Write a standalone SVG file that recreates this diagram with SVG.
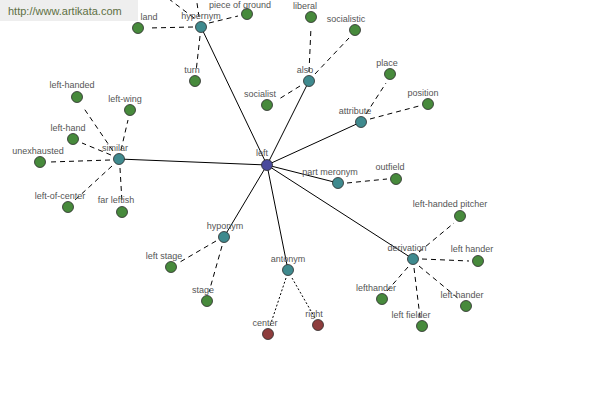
<svg xmlns="http://www.w3.org/2000/svg" width="600" height="400" viewBox="0 0 600 400">
<style>
.bg{fill:#ffffff}
.wm{fill:#eeeeee}
.wmt{font-family:"Liberation Sans",Arial,sans-serif;font-size:11px;fill:#5e7044}
.lbl{font-family:"Liberation Sans",Arial,sans-serif;font-size:9px;fill:#555555;text-anchor:middle}
.n{stroke:#2a2a2a;stroke-width:0.8}
.root{fill:#4a4a9c}
.rel{fill:#3f8a8e}
.syn{fill:#478a3c}
.ant{fill:#8e3d3d}
.s{stroke:#000;stroke-width:1;fill:none}
.d{stroke:#000;stroke-width:1;fill:none;stroke-dasharray:5 4}
.o{stroke:#000;stroke-width:1;fill:none;stroke-dasharray:2 2}
</style>
<rect class="bg" width="600" height="400"/>
<g id="connectors">
<line class="s" x1="267" y1="165" x2="201" y2="27"/>
<line class="s" x1="267" y1="165" x2="309" y2="81"/>
<line class="s" x1="267" y1="165" x2="361" y2="122"/>
<line class="s" x1="267" y1="165" x2="119" y2="159"/>
<line class="s" x1="267" y1="165" x2="338" y2="183"/>
<line class="s" x1="267" y1="165" x2="413" y2="259"/>
<line class="s" x1="267" y1="165" x2="288" y2="270"/>
<line class="s" x1="267" y1="165" x2="224" y2="237"/>
<line class="d" x1="193" y1="27" x2="148" y2="28"/>
<line class="d" x1="209" y1="23" x2="238" y2="16"/>
<line class="d" x1="200" y1="36" x2="196" y2="72"/>
<line class="d" x1="194" y1="18" x2="165" y2="-4"/>
<line class="d" x1="199" y1="17" x2="196" y2="-4"/>
<line class="d" x1="309" y1="72" x2="311" y2="27"/>
<line class="d" x1="315" y1="74" x2="349" y2="38"/>
<line class="d" x1="300" y1="86" x2="279" y2="99"/>
<line class="d" x1="366" y1="114" x2="386" y2="83"/>
<line class="d" x1="370" y1="119" x2="419" y2="106"/>
<line class="d" x1="113" y1="151" x2="83" y2="107"/>
<line class="d" x1="121" y1="150" x2="128" y2="120"/>
<line class="d" x1="111" y1="155" x2="82" y2="143"/>
<line class="d" x1="110" y1="160" x2="50" y2="162"/>
<line class="d" x1="112" y1="166" x2="75" y2="200"/>
<line class="d" x1="120" y1="168" x2="122" y2="202"/>
<line class="d" x1="347" y1="183" x2="387" y2="179"/>
<line class="d" x1="216" y1="241" x2="180" y2="262"/>
<line class="d" x1="222" y1="246" x2="209" y2="292"/>
<line class="d" x1="419" y1="252" x2="454" y2="223"/>
<line class="d" x1="422" y1="259" x2="469" y2="261"/>
<line class="d" x1="408" y1="267" x2="387" y2="291"/>
<line class="d" x1="419" y1="266" x2="459" y2="299"/>
<line class="d" x1="414" y1="268" x2="420" y2="317"/>
<line class="o" x1="286" y1="278" x2="270" y2="326"/>
<line class="o" x1="292" y1="278" x2="315" y2="318"/>
</g>
<g id="watermark">
<rect class="wm" x="0" y="0" width="138" height="21"/>
<text class="wmt" x="8" y="15">http://www.artikata.com</text>
</g>
<g id="n-left"><circle class="n root" cx="267" cy="165" r="5.5"/><text class="lbl" x="262" y="156">left</text></g>
<g id="n-hypernym"><circle class="n rel" cx="201" cy="27" r="5.5"/><text class="lbl" x="201" y="19">hypernym</text></g>
<g id="n-land"><circle class="n syn" cx="138" cy="28" r="5.5"/><text class="lbl" x="149" y="20">land</text></g>
<g id="n-piece"><circle class="n syn" cx="247" cy="14" r="5.5"/><text class="lbl" x="240" y="8">piece of ground</text></g>
<g id="n-turn"><circle class="n syn" cx="195" cy="81" r="5.5"/><text class="lbl" x="192" y="73">turn</text></g>
<g id="n-also"><circle class="n rel" cx="309" cy="81" r="5.5"/><text class="lbl" x="305" y="73">also</text></g>
<g id="n-liberal"><circle class="n syn" cx="311" cy="17" r="5.5"/><text class="lbl" x="305" y="9">liberal</text></g>
<g id="n-socialistic"><circle class="n syn" cx="355" cy="30" r="5.5"/><text class="lbl" x="346" y="22">socialistic</text></g>
<g id="n-socialist"><circle class="n syn" cx="267" cy="105" r="5.5"/><text class="lbl" x="260" y="97">socialist</text></g>
<g id="n-attribute"><circle class="n rel" cx="361" cy="122" r="5.5"/><text class="lbl" x="355" y="114">attribute</text></g>
<g id="n-place"><circle class="n syn" cx="390" cy="74" r="5.5"/><text class="lbl" x="387" y="66">place</text></g>
<g id="n-position"><circle class="n syn" cx="428" cy="104" r="5.5"/><text class="lbl" x="423" y="96">position</text></g>
<g id="n-similar"><circle class="n rel" cx="119" cy="159" r="5.5"/><text class="lbl" x="115" y="151">similar</text></g>
<g id="n-left-handed"><circle class="n syn" cx="77" cy="97" r="5.5"/><text class="lbl" x="72" y="88">left-handed</text></g>
<g id="n-left-wing"><circle class="n syn" cx="130" cy="110" r="5.5"/><text class="lbl" x="125" y="102">left-wing</text></g>
<g id="n-left-hand"><circle class="n syn" cx="73" cy="139" r="5.5"/><text class="lbl" x="68" y="131">left-hand</text></g>
<g id="n-unexhausted"><circle class="n syn" cx="40" cy="162" r="5.5"/><text class="lbl" x="38" y="154">unexhausted</text></g>
<g id="n-left-of-center"><circle class="n syn" cx="68" cy="207" r="5.5"/><text class="lbl" x="60" y="199">left-of-center</text></g>
<g id="n-far-leftish"><circle class="n syn" cx="122" cy="212" r="5.5"/><text class="lbl" x="116" y="203">far leftish</text></g>
<g id="n-part-meronym"><circle class="n rel" cx="338" cy="183" r="5.5"/><text class="lbl" x="330" y="175">part meronym</text></g>
<g id="n-outfield"><circle class="n syn" cx="396" cy="179" r="5.5"/><text class="lbl" x="390" y="170">outfield</text></g>
<g id="n-hyponym"><circle class="n rel" cx="224" cy="237" r="5.5"/><text class="lbl" x="225" y="229">hyponym</text></g>
<g id="n-left-stage"><circle class="n syn" cx="171" cy="267" r="5.5"/><text class="lbl" x="164" y="259">left stage</text></g>
<g id="n-stage"><circle class="n syn" cx="207" cy="301" r="5.5"/><text class="lbl" x="203" y="293">stage</text></g>
<g id="n-antonym"><circle class="n rel" cx="288" cy="270" r="5.5"/><text class="lbl" x="288" y="262">antonym</text></g>
<g id="n-center"><circle class="n ant" cx="268" cy="334" r="5.5"/><text class="lbl" x="265" y="326">center</text></g>
<g id="n-right"><circle class="n ant" cx="318" cy="325" r="5.5"/><text class="lbl" x="314" y="317">right</text></g>
<g id="n-derivation"><circle class="n rel" cx="413" cy="259" r="5.5"/><text class="lbl" x="407" y="251">derivation</text></g>
<g id="n-left-handed-pitcher"><circle class="n syn" cx="460" cy="216" r="5.5"/><text class="lbl" x="450" y="207">left-handed pitcher</text></g>
<g id="n-left-hander-1"><circle class="n syn" cx="478" cy="261" r="5.5"/><text class="lbl" x="472" y="252">left hander</text></g>
<g id="n-lefthander"><circle class="n syn" cx="382" cy="299" r="5.5"/><text class="lbl" x="376" y="291">lefthander</text></g>
<g id="n-left-hander-2"><circle class="n syn" cx="466" cy="306" r="5.5"/><text class="lbl" x="462" y="298">left-hander</text></g>
<g id="n-left-fielder"><circle class="n syn" cx="422" cy="326" r="5.5"/><text class="lbl" x="411" y="318">left fielder</text></g>
</svg>
